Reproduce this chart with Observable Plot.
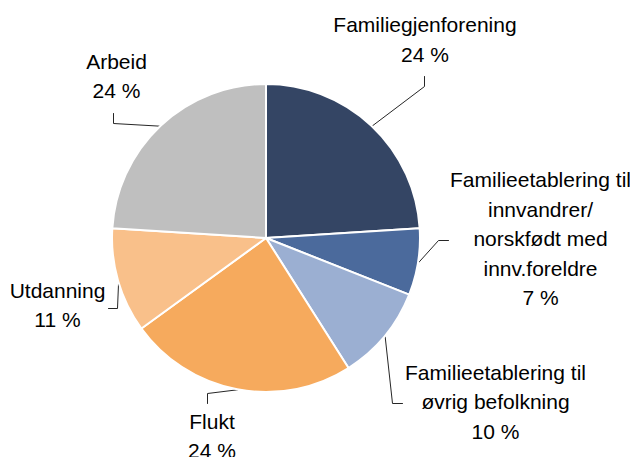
<!DOCTYPE html>
<html>
<head>
<meta charset="utf-8">
<script src="https://cdn.jsdelivr.net/npm/d3@7"></script>
<script src="https://cdn.jsdelivr.net/npm/@observablehq/plot@0.6"></script>
<style>
  html, body { margin: 0; padding: 0; background: #fff; }
</style>
</head>
<body>
<div id="chart"></div>
<script>
// ---- data ----
const categories = [
  "Familiegjenforening",
  "Familieetablering til innvandrer/norskfødt med innv.foreldre",
  "Familieetablering til øvrig befolkning",
  "Flukt",
  "Utdanning",
  "Arbeid"
];
const labelLines = [
  ["Familiegjenforening"],
  ["Familieetablering til", "innvandrer/", "norskfødt med", "innv.foreldre"],
  ["Familieetablering til", "øvrig befolkning"],
  ["Flukt"],
  ["Utdanning"],
  ["Arbeid"]
];
const values = [24, 7, 10, 24, 11, 24];

// ---- styles ----
const colors = ["#344564", "#4b6a9c", "#9bafd2", "#f6aa5d", "#f9c08a", "#bfbfbf"];

// ---- layout (pixels, relative to pie centre) ----
const W = 630, H = 457, CX = 266, CY = 238, R = 154;
const FS = 21, LH = 29.5;
const labelAnchor = [[158.5, -206.3], [274, -51.3], [229, 141], [-54.5, 190], [-209, 59], [-150, -170]];
const leaderElbow = [
  [[158, -162], [158, -152]],
  [[182, 2], [172, 2]],
  [[136, 165], [126, 165]],
  [[-59, 165], [-59, 155]],
  [[-158, 70], [-149, 70]],
  [[-153, -125], [-153, -115]]
];

const pieData = categories.map((c, i) => ({category: c, value: values[i]}));
const arcs = d3.pie().sort(null).value(d => d.value)(pieData);
const color = Plot.scale({color: {type: "ordinal", domain: categories, range: colors}});

// leader lines: elbow points then slice edge at mid-angle
const leaderRows = [];
arcs.forEach((a, i) => {
  const mid = (a.startAngle + a.endAngle) / 2;
  const pts = [...leaderElbow[i], [R * Math.sin(mid), -R * Math.cos(mid)]];
  pts.forEach(([x, y]) => leaderRows.push({category: a.data.category, x, y}));
});

// label rows: name lines + percentage
const textRows = [];
categories.forEach((c, i) => {
  const lines = [...labelLines[i], `${values[i]} %`];
  lines.forEach((t, j) => textRows.push({category: c, text: t, x: labelAnchor[i][0], y: labelAnchor[i][1] + j * LH}));
});

function pieMark(index, scales) {
  const x0 = scales.x(0), y0 = scales.y(0), r = scales.x(R) - x0;
  const arc = d3.arc().innerRadius(0).outerRadius(r);
  const g = d3.create("svg:g").attr("transform", `translate(${x0},${y0})`);
  g.selectAll("path").data(arcs).join("path")
    .attr("d", arc)
    .attr("fill", d => color.apply(d.data.category))
    .attr("stroke", "#fff")
    .attr("stroke-width", 2)
    .attr("stroke-linejoin", "round");
  return g.node();
}

const chart = Plot.plot({
  width: W,
  height: H,
  margin: 0,
  x: {domain: [-CX, W - CX], range: [0, W], axis: null},
  y: {domain: [-CY, H - CY], range: [0, H], axis: null},
  style: {fontFamily: "'Liberation Sans', Arial, sans-serif", background: "#fff", overflow: "visible"},
  marks: [
    Plot.line(leaderRows, {x: "x", y: "y", z: "category", stroke: "#262626", strokeWidth: 1, curve: "linear"}),
    pieMark,
    Plot.text(textRows, {x: "x", y: "y", text: "text", textAnchor: "middle", lineAnchor: "bottom", fontSize: FS, fill: "#000"})
  ]
});
document.getElementById("chart").appendChild(chart);
</script>
</body>
</html>
